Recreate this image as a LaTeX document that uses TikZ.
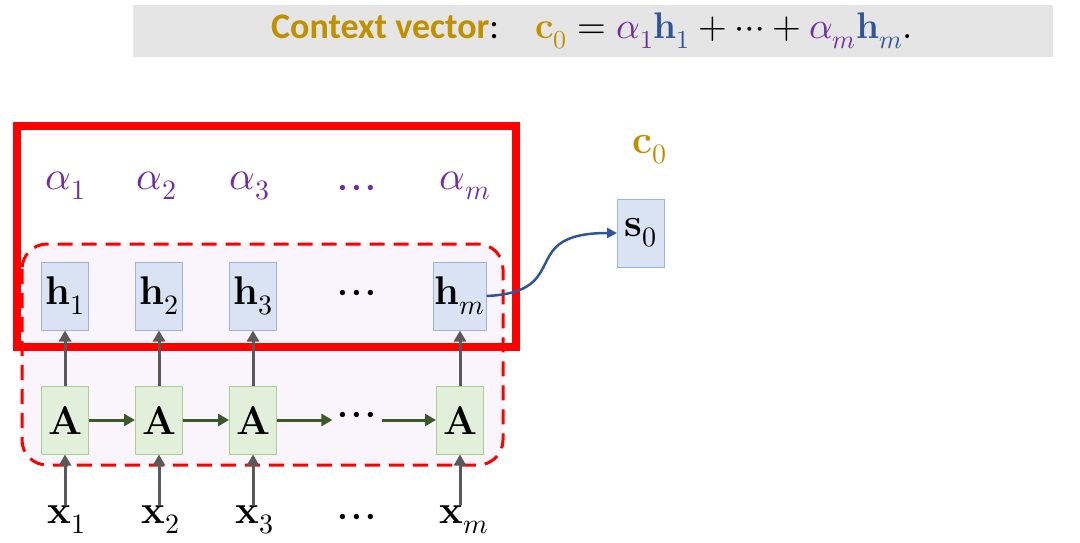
\documentclass[tikz,border=0pt]{standalone}
\usepackage{amsmath}
\usepackage{fontspec}
\usepackage{unicode-math}
\setmathfont{Latin Modern Math}
\usepackage{tikz}
\usetikzlibrary{arrows.meta}
\newfontfamily\calfont{Carlito}
\definecolor{hfill}{HTML}{DAE3F3}
\definecolor{hline}{HTML}{9DB4E0}
\definecolor{afill}{HTML}{E2EFDA}
\definecolor{aline}{HTML}{A9D18E}
\definecolor{gold}{HTML}{BF9000}
\definecolor{purp}{HTML}{7030A0}
\definecolor{hblue}{HTML}{2F5597}
\definecolor{grayarr}{HTML}{595959}
\definecolor{greenarr}{HTML}{3D5A26}
\definecolor{lavender}{HTML}{FAF5FC}
\tikzset{
  lab/.style={font=\fontsize{40}{44}\selectfont, inner sep=1pt},
  dotlab/.style={font=\fontsize{50}{54}\selectfont, inner sep=1pt},
  hbox/.style={draw=hline, fill=hfill, line width=1pt, minimum width=47pt, minimum height=68pt, inner sep=0pt, lab},
  abox/.style={draw=aline, fill=afill, line width=1pt, minimum width=47pt, minimum height=68pt, inner sep=0pt, lab},
  uparr/.style={draw=grayarr, line width=3pt, -{Triangle[length=11pt,width=12pt]}},
  recarr/.style={draw=greenarr, line width=3pt, -{Triangle[length=11pt,width=12pt]}}
}
\begin{document}
\begin{tikzpicture}[x=1pt,y=-1pt]
  \useasboundingbox (0,0) rectangle (1080,542);
  % header
  \fill[gray!20] (133,5) rectangle (1053,57);
  \node[inner sep=0pt, font=\fontsize{36}{40}\selectfont] (title) at (592,31)
    {{\calfont\bfseries\color{gold}Context vector}{\calfont:}\quad
     {\fontsize{37}{40}\selectfont$\color{gold}\mathbf{c}_0 \color{black}= \color{purp}\alpha_1\color{hblue}\mathbf{h}_1\color{black} + \cdots + \color{purp}\alpha_m\color{hblue}\mathbf{h}_m\color{black}.$}};
  % encoder region
  \draw[red, line width=3pt, dash pattern=on 15pt off 9pt, fill=lavender, rounded corners=25pt] (22,244) rectangle (503,465);
  % hidden states
  \node[hbox] (h1) at (65,296) {$\mathbf{h}_1$};
  \node[hbox] (h2) at (159,296) {$\mathbf{h}_2$};
  \node[hbox] (h3) at (253,296) {$\mathbf{h}_3$};
  \node[dotlab] (hdots) at (357,298) {$\cdots$};
  \node[hbox] (hm) at (460,296) {$\mathbf{h}_m$};
  % cells
  \node[abox] (A1) at (65,420) {$\mathbf{A}$};
  \node[abox] (A2) at (159,420) {$\mathbf{A}$};
  \node[abox] (A3) at (253,420) {$\mathbf{A}$};
  \node[dotlab, inner sep=5pt] (adots) at (357,420) {$\cdots$};
  \node[abox] (Am) at (460,420) {$\mathbf{A}$};
  % inputs
  \node[lab] (x1) at (67,520) {$\mathbf{x}_1$};
  \node[lab] (x2) at (161,520) {$\mathbf{x}_2$};
  \node[lab] (x3) at (255,520) {$\mathbf{x}_3$};
  \node[dotlab] (xdots) at (357,522) {$\cdots$};
  \node[lab] (xm) at (464,520) {$\mathbf{x}_m$};
  % weights
  \node[lab, purp] (a1) at (66,186) {$\alpha_1$};
  \node[lab, purp] (a2) at (157,186) {$\alpha_2$};
  \node[lab, purp] (a3) at (250,186) {$\alpha_3$};
  \node[dotlab, purp] (adotsw) at (357,193) {$\cdots$};
  \node[lab, purp] (am) at (465,186) {$\alpha_m$};
  % context box
  \draw[red, line width=8pt] (17,126) rectangle (516,347);
  % decoder
  \node[hbox] (s0) at (641,233) {$\mathbf{s}_0$};
  \node[lab, gold] (c0) at (650,150) {$\mathbf{c}_0$};
  % arrows
  \foreach \i in {1,2,3,m}{
    \draw[uparr] (A\i |- x\i.north) -- (A\i.south);
    \draw[uparr] (A\i.north) -- (h\i.south);
  }
  \draw[recarr] (A1) -- (A2);
  \draw[recarr] (A2) -- (A3);
  \draw[recarr] (A3) -- (adots);
  \draw[recarr] (adots) -- (Am);
  \draw[hblue, line width=2.5pt, -{Triangle[length=10pt,width=10pt]}] (hm.east) .. controls (575,292) and (515,233) .. (s0.west);
\end{tikzpicture}
\end{document}
